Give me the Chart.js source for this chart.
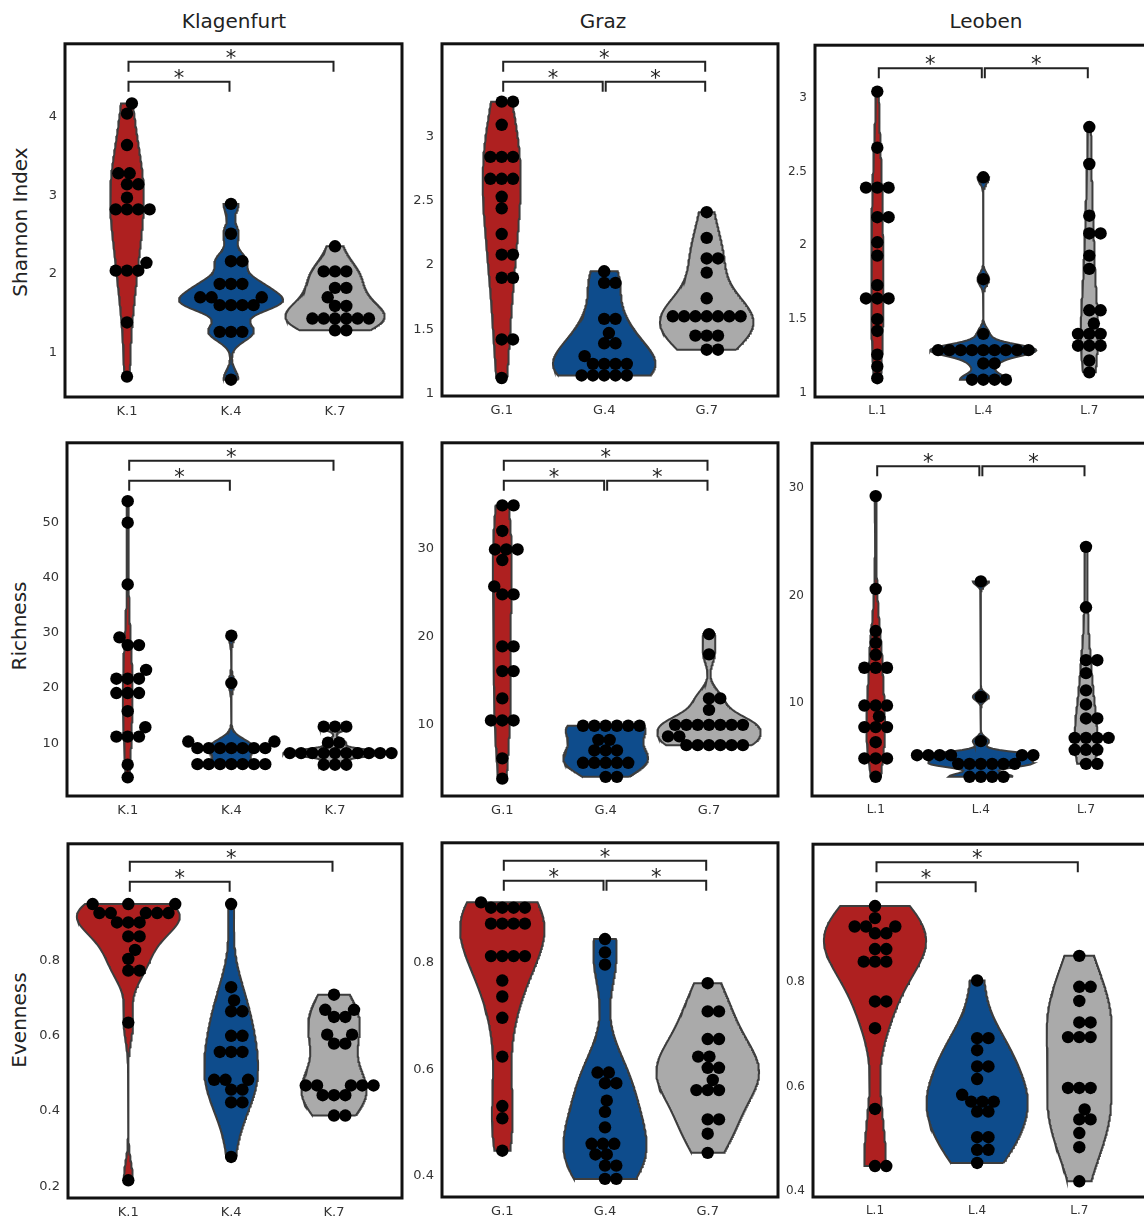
<!DOCTYPE html>
<html>
<head>
<meta charset="utf-8">
<script src="https://cdn.jsdelivr.net/npm/chart.js@4.4.0/dist/chart.umd.min.js"></script>
<style>
body { margin:0; background:#fff; width:1144px; height:1218px; overflow:hidden; position:relative; font-family:"DejaVu Sans", sans-serif; }
.panel { position:absolute; }
.ctitle { position:absolute; font-size:20px; color:#222; transform:translateX(-50%); white-space:nowrap; }
.rtitle { position:absolute; font-size:20px; color:#222; transform:translate(-50%,-50%) rotate(-90deg); white-space:nowrap; }
</style>
</head>
<body>
<div class="ctitle" style="left:234px;top:9px">Klagenfurt</div>
<div class="ctitle" style="left:603px;top:9px">Graz</div>
<div class="ctitle" style="left:986px;top:9px">Leoben</div>
<div class="rtitle" style="left:20px;top:222px">Shannon Index</div>
<div class="rtitle" style="left:19px;top:626px">Richness</div>
<div class="rtitle" style="left:19px;top:1020px">Evenness</div>
<script>
'use strict';

// categories
var klagenfurtGroups = ['K.1', 'K.4', 'K.7'];
var grazGroups = ['G.1', 'G.4', 'G.7'];
var leobenGroups = ['L.1', 'L.4', 'L.7'];

// Shannon index
var shannonK1 = [4.17, 4.04, 3.64, 3.28, 3.28, 3.14, 3.14, 2.97, 2.82, 2.82, 2.82, 2.82, 2.14, 2.04, 2.04, 2.04, 1.38, 0.69];
var shannonK4 = [2.89, 2.51, 2.16, 2.16, 1.87, 1.87, 1.87, 1.70, 1.70, 1.70, 1.60, 1.60, 1.60, 1.60, 1.26, 1.26, 1.26, 0.65];
var shannonK7 = [2.35, 2.03, 2.03, 2.03, 1.82, 1.82, 1.70, 1.59, 1.59, 1.43, 1.43, 1.43, 1.43, 1.43, 1.43, 1.28, 1.28];
var shannonG1 = [3.27, 3.27, 3.09, 2.84, 2.84, 2.84, 2.67, 2.67, 2.67, 2.53, 2.44, 2.24, 2.08, 2.08, 1.90, 1.90, 1.42, 1.42, 1.12];
var shannonG4 = [1.95, 1.86, 1.86, 1.58, 1.58, 1.47, 1.39, 1.39, 1.29, 1.23, 1.23, 1.23, 1.23, 1.14, 1.14, 1.14, 1.14, 1.14];
var shannonG7 = [2.41, 2.21, 2.05, 2.05, 1.94, 1.74, 1.60, 1.60, 1.60, 1.60, 1.60, 1.60, 1.60, 1.45, 1.45, 1.45, 1.34, 1.34];
var shannonL1 = [3.04, 2.66, 2.39, 2.39, 2.39, 2.19, 2.19, 2.02, 1.93, 1.73, 1.64, 1.64, 1.64, 1.50, 1.42, 1.26, 1.18, 1.10];
var shannonL4 = [2.46, 1.77, 1.40, 1.29, 1.29, 1.29, 1.29, 1.29, 1.29, 1.29, 1.29, 1.29, 1.20, 1.20, 1.09, 1.09, 1.09, 1.09];
var shannonL7 = [2.80, 2.55, 2.20, 2.08, 2.08, 1.93, 1.84, 1.56, 1.56, 1.47, 1.40, 1.40, 1.40, 1.32, 1.32, 1.32, 1.22, 1.14];

// Richness
var richnessK1 = [53.9, 50.0, 38.8, 29.2, 27.8, 27.8, 23.3, 21.7, 21.7, 21.7, 19.1, 19.1, 19.1, 15.8, 12.9, 11.2, 11.2, 11.2, 6.1, 3.8];
var richnessK4 = [29.5, 20.9, 10.3, 10.3, 9.1, 9.1, 9.1, 9.1, 9.1, 9.1, 9.1, 6.2, 6.2, 6.2, 6.2, 6.2, 6.2, 6.2];
var richnessK7 = [13.0, 13.0, 13.0, 10.1, 10.1, 8.2, 8.2, 8.2, 8.2, 8.2, 8.2, 8.2, 8.2, 8.2, 8.2, 6.1, 6.1, 6.1];
var richnessG1 = [34.9, 34.9, 32.0, 29.9, 29.9, 29.9, 28.7, 25.7, 24.8, 24.8, 18.9, 18.9, 16.1, 16.1, 13.0, 10.5, 10.5, 10.5, 6.2, 3.9];
var richnessG4 = [9.9, 9.9, 9.9, 9.9, 9.9, 9.9, 8.3, 8.3, 7.1, 7.1, 7.1, 5.7, 5.7, 5.7, 5.7, 5.7, 4.1, 4.1];
var richnessG7 = [20.3, 18.0, 13.0, 13.0, 11.7, 10.0, 10.0, 10.0, 10.0, 10.0, 10.0, 10.0, 8.7, 8.7, 7.7, 7.7, 7.7, 7.7, 7.7, 7.7];
var richnessL1 = [29.2, 20.6, 16.7, 15.6, 14.5, 13.3, 13.3, 13.3, 9.8, 9.8, 9.8, 8.8, 7.8, 7.8, 7.8, 6.4, 4.9, 4.9, 4.9, 3.2];
var richnessL4 = [21.3, 10.6, 6.5, 5.2, 5.2, 5.2, 5.2, 5.2, 5.2, 4.4, 4.4, 4.4, 4.4, 4.4, 4.4, 3.2, 3.2, 3.2, 3.2];
var richnessL7 = [24.5, 18.9, 14.0, 14.0, 12.8, 11.2, 9.9, 8.6, 8.6, 6.8, 6.8, 6.8, 6.8, 5.7, 5.7, 5.7, 4.4, 4.4];

// Evenness
var evennessK1 = [0.950, 0.950, 0.950, 0.926, 0.926, 0.926, 0.926, 0.926, 0.901, 0.901, 0.901, 0.864, 0.864, 0.828, 0.804, 0.773, 0.773, 0.635, 0.216];
var evennessK4 = [0.950, 0.729, 0.694, 0.665, 0.665, 0.600, 0.600, 0.557, 0.557, 0.557, 0.483, 0.483, 0.483, 0.457, 0.457, 0.423, 0.423, 0.278];
var evennessK7 = [0.709, 0.669, 0.669, 0.650, 0.650, 0.603, 0.603, 0.579, 0.579, 0.468, 0.468, 0.468, 0.468, 0.468, 0.442, 0.442, 0.442, 0.388, 0.388];
var evennessG1 = [0.914, 0.904, 0.904, 0.904, 0.904, 0.874, 0.874, 0.874, 0.874, 0.813, 0.813, 0.813, 0.813, 0.767, 0.737, 0.697, 0.624, 0.531, 0.508, 0.447];
var evennessG4 = [0.845, 0.820, 0.797, 0.594, 0.594, 0.574, 0.574, 0.541, 0.520, 0.491, 0.460, 0.460, 0.460, 0.440, 0.440, 0.419, 0.419, 0.394, 0.394];
var evennessG7 = [0.762, 0.709, 0.709, 0.657, 0.657, 0.624, 0.624, 0.603, 0.603, 0.580, 0.561, 0.561, 0.561, 0.506, 0.506, 0.479, 0.443];
var evennessL1 = [0.944, 0.921, 0.905, 0.905, 0.905, 0.892, 0.892, 0.862, 0.862, 0.838, 0.838, 0.838, 0.762, 0.762, 0.711, 0.557, 0.448, 0.448];
var evennessL4 = [0.802, 0.692, 0.692, 0.669, 0.638, 0.638, 0.614, 0.584, 0.571, 0.571, 0.571, 0.552, 0.552, 0.503, 0.503, 0.479, 0.479, 0.454];
var evennessL7 = [0.849, 0.790, 0.790, 0.763, 0.722, 0.722, 0.694, 0.694, 0.694, 0.597, 0.597, 0.597, 0.556, 0.537, 0.537, 0.511, 0.484, 0.419];

// tick labels
var shannonTicksK = [1, 2, 3, 4];
var shannonTicksG = [1, 1.5, 2, 2.5, 3];
var shannonTicksL = [1, 1.5, 2, 2.5, 3];
var richnessTicksK = [10, 20, 30, 40, 50];
var richnessTicksG = [10, 20, 30];
var richnessTicksL = [10, 20, 30];
var evennessTicksK = [0.2, 0.4, 0.6, 0.8];
var evennessTicksG = [0.4, 0.6, 0.8];
var evennessTicksL = [0.4, 0.6, 0.8];

// significance brackets (group index pairs)
var sigK = [[0, 1], [0, 2]];
var sigG = [[0, 1], [1, 2], [0, 2]];
var sigL = [[0, 1], [1, 2]];
var sigLEven = [[0, 1], [0, 2]];

var violinColors = ['rgb(174,32,32)', 'rgb(14,76,140)', 'rgb(170,170,170)'];
var AXW = 50, AXH = 26, PADT = 6, PADR = 6;
var GAP = 11.3;     // swarm spacing, px
var RADIUS = 6.2;   // dot radius, px

// box = frame l,t,r,b ; cx = pixel centres of first and last group ; y = value range
var panels = [
	{vals: [shannonK1, shannonK4, shannonK7], cats: klagenfurtGroups, ticks: shannonTicksK, sig: sigK, y: [0.43, 4.93], box: [65, 44, 402, 397], cx: [127, 335], fs: 13},
	{vals: [shannonG1, shannonG4, shannonG7], cats: grazGroups, ticks: shannonTicksG, sig: sigG, y: [0.98, 3.72], box: [442, 44, 778, 396], cx: [501.7, 706.7], fs: 13},
	{vals: [shannonL1, shannonL4, shannonL7], cats: leobenGroups, ticks: shannonTicksL, sig: sigL, y: [0.973, 3.354], box: [815, 45, 1163, 397], cx: [877.3, 1089.3], fs: 12},
	{vals: [richnessK1, richnessK4, richnessK7], cats: klagenfurtGroups, ticks: richnessTicksK, sig: sigK, y: [0.42, 64.5], box: [67, 443, 402, 796], cx: [127.7, 335], fs: 13},
	{vals: [richnessG1, richnessG4, richnessG7], cats: grazGroups, ticks: richnessTicksG, sig: sigG, y: [1.93, 42.0], box: [442, 443, 778, 796], cx: [502.3, 709], fs: 13},
	{vals: [richnessL1, richnessL4, richnessL7], cats: leobenGroups, ticks: richnessTicksL, sig: sigL, y: [1.42, 34.1], box: [812, 443, 1160, 796], cx: [875.7, 1086], fs: 12},
	{vals: [evennessK1, evennessK4, evennessK7], cats: klagenfurtGroups, ticks: evennessTicksK, sig: sigK, y: [0.169, 1.11], box: [68, 844, 402, 1198], cx: [128.3, 334], fs: 13},
	{vals: [evennessG1, evennessG4, evennessG7], cats: grazGroups, ticks: evennessTicksG, sig: sigG, y: [0.36, 1.026], box: [442, 843, 778, 1197], cx: [502.3, 707.7], fs: 13},
	{vals: [evennessL1, evennessL4, evennessL7], cats: leobenGroups, ticks: evennessTicksL, sig: sigLEven, y: [0.389, 1.062], box: [813, 844, 1160, 1197], cx: [875, 1079.3], fs: 12}
];

function quantile(sorted, q) {
	var pos = (sorted.length - 1) * q, lo = Math.floor(pos), hi = Math.ceil(pos);
	return sorted[lo] + (sorted[hi] - sorted[lo]) * (pos - lo);
}

// gaussian kde, silverman bandwidth, cut at data range
function kde(vals) {
	var n = vals.length;
	var sorted = vals.slice().sort(function(a, b) { return a - b; });
	var mean = vals.reduce(function(a, b) { return a + b; }, 0) / n;
	var sd = Math.sqrt(vals.reduce(function(a, b) { return a + (b - mean) * (b - mean); }, 0) / (n - 1));
	var iqr = quantile(sorted, 0.75) - quantile(sorted, 0.25);
	var spread = iqr > 0 ? Math.min(sd, iqr / 1.349) : sd;
	var bw = 1.059 * spread * Math.pow(n, -0.2);
	var lo = sorted[0], hi = sorted[n - 1];
	var out = [];
	for (var i = 0; i <= 160; i++) {
		var y = lo + (hi - lo) * i / 160;
		var s = 0;
		vals.forEach(function(v) { var z = (y - v) / bw; s += Math.exp(-0.5 * z * z); });
		out.push({y: y, d: s / (n * bw * Math.sqrt(2 * Math.PI))});
	}
	return out;
}

// beeswarm in pixel space, returns x offsets in px
function swarm(vals, pxY) {
	var pts = vals.map(function(v) { return {v: v, y: v * pxY, x: 0}; });
	pts.sort(function(a, b) { return a.y - b.y; });
	var placed = [];
	pts.forEach(function(p) {
		var nb = placed.filter(function(q) { return Math.abs(q.y - p.y) < GAP; });
		var cands = [0];
		nb.forEach(function(q) {
			var dx = Math.sqrt(GAP * GAP - (q.y - p.y) * (q.y - p.y));
			cands.push(q.x + dx, q.x - dx);
		});
		cands.sort(function(a, b) { return Math.abs(a) - Math.abs(b); });
		for (var i = 0; i < cands.length; i++) {
			var c = cands[i];
			var ok = nb.every(function(q) {
				return (c - q.x) * (c - q.x) + (p.y - q.y) * (p.y - q.y) >= GAP * GAP - 0.01;
			});
			if (ok) { p.x = c; break; }
		}
		placed.push(p);
	});
	return placed;
}

var framePlugin = {
	id: 'frame',
	afterDraw: function(chart) {
		var a = chart.chartArea, ctx = chart.ctx;
		ctx.save();
		ctx.strokeStyle = '#111';
		ctx.lineWidth = 3;
		ctx.strokeRect(a.left, a.top, a.right - a.left, a.bottom - a.top);
		ctx.restore();
	}
};

var bracketPlugin = {
	id: 'brackets',
	afterDatasetsDraw: function(chart, args, opts) {
		var sig = opts.items || [];
		var a = chart.chartArea, ctx = chart.ctx, xs = chart.scales.x;
		var hasWide = sig.some(function(s) { return s[1] - s[0] === 2; });
		ctx.save();
		ctx.strokeStyle = '#222';
		ctx.fillStyle = '#222';
		ctx.lineWidth = 2;
		ctx.font = '21px "DejaVu Sans"';
		ctx.textAlign = 'center';
		sig.forEach(function(s) {
			var off;
			if (s[1] - s[0] === 2) off = 18;
			else off = hasWide ? 38 : 23;
			var y = a.top + off;
			var x1 = xs.getPixelForValue(s[0]) + 1.5;
			var x2 = xs.getPixelForValue(s[1]) - 1.5;
			ctx.beginPath();
			ctx.moveTo(x1, y + 10);
			ctx.lineTo(x1, y);
			ctx.lineTo(x2, y);
			ctx.lineTo(x2, y + 10);
			ctx.stroke();
			ctx.fillText('*', (x1 + x2) / 2, y + 3);
		});
		ctx.restore();
	}
};

function buildConfig(p, xmin, xmax, datasets) {
	var tickFont = {family: 'DejaVu Sans', size: p.fs};
	return {
		type: 'scatter',
		data: {datasets: datasets},
		options: {
			responsive: false,
			maintainAspectRatio: false,
			animation: false,
			layout: {autoPadding: false, padding: {top: PADT, right: PADR, left: 0, bottom: 0}},
			scales: {
				x: {
					type: 'linear', min: xmin, max: xmax,
					grid: {display: false, drawTicks: false},
					border: {display: false},
					ticks: {font: tickFont, color: '#333', padding: 7, callback: function(v) { return p.cats[v]; }},
					afterBuildTicks: function(s) { s.ticks = [0, 1, 2].map(function(v) { return {value: v}; }); },
					afterFit: function(s) { s.height = AXH; }
				},
				y: {
					type: 'linear', min: p.y[0], max: p.y[1],
					grid: {display: false, drawTicks: false},
					border: {display: false},
					ticks: {font: tickFont, color: '#333', padding: 8, callback: function(v) { return String(v); }},
					afterBuildTicks: function(s) { s.ticks = p.ticks.map(function(v) { return {value: v}; }); },
					afterFit: function(s) { s.width = AXW; }
				}
			},
			plugins: {
				legend: {display: false},
				tooltip: {enabled: false},
				brackets: {items: p.sig}
			}
		},
		plugins: [bracketPlugin, framePlugin]
	};
}

panels.forEach(function(p) {
	var l = p.box[0], t = p.box[1], r = p.box[2], b = p.box[3];
	var sp = (p.cx[1] - p.cx[0]) / 2;
	var xmin = (l - p.cx[0]) / sp, xmax = (r - p.cx[0]) / sp;
	var pxY = (b - t) / (p.y[1] - p.y[0]);

	var w = r - l + AXW + PADR, h = b - t + PADT + AXH;
	var holder = document.createElement('div');
	holder.className = 'panel';
	holder.style.left = (l - AXW) + 'px';
	holder.style.top = (t - PADT) + 'px';
	var canvas = document.createElement('canvas');
	canvas.width = w;
	canvas.height = h;
	holder.appendChild(canvas);
	document.body.appendChild(holder);

	var dens = p.vals.map(kde);
	var gmax = 0;
	dens.forEach(function(d) { d.forEach(function(q) { gmax = Math.max(gmax, q.d); }); });

	function makeDatasets() {
		var datasets = [];
		dens.forEach(function(d, i) {
			var shape = [];
			d.forEach(function(q) { shape.push({x: i + 0.5 * q.d / gmax, y: q.y}); });
			for (var k = d.length - 1; k >= 0; k--) shape.push({x: i - 0.5 * d[k].d / gmax, y: d[k].y});
			shape.push(shape[0]);
			datasets.push({
				data: shape,
				showLine: true,
				fill: 'shape',
				backgroundColor: violinColors[i],
				borderColor: '#3d3d3d',
				borderWidth: 2,
				pointRadius: 0,
				tension: 0,
				order: 2
			});
		});
		p.vals.forEach(function(vals, i) {
			var pts = swarm(vals, pxY).map(function(q) { return {x: i + q.x / sp, y: q.v}; });
			datasets.push({
				data: pts,
				showLine: false,
				pointRadius: RADIUS,
				pointBackgroundColor: '#000',
				pointBorderWidth: 0,
				order: 1
			});
		});
		return datasets;
	}

	var chart = new Chart(canvas.getContext('2d'), buildConfig(p, xmin, xmax, makeDatasets()));

	// the y scale reserves extra room above for its top label; rebuild taller and shift up
	var extra = Math.round(chart.chartArea.top - PADT);
	if (extra !== 0) {
		chart.destroy();
		canvas.width = w;
		canvas.height = h + extra;
		canvas.style.width = w + 'px';
		canvas.style.height = (h + extra) + 'px';
		holder.style.top = (t - PADT - extra) + 'px';
		chart = new Chart(canvas.getContext('2d'), buildConfig(p, xmin, xmax, makeDatasets()));
	}
});
</script>
</body>
</html>
